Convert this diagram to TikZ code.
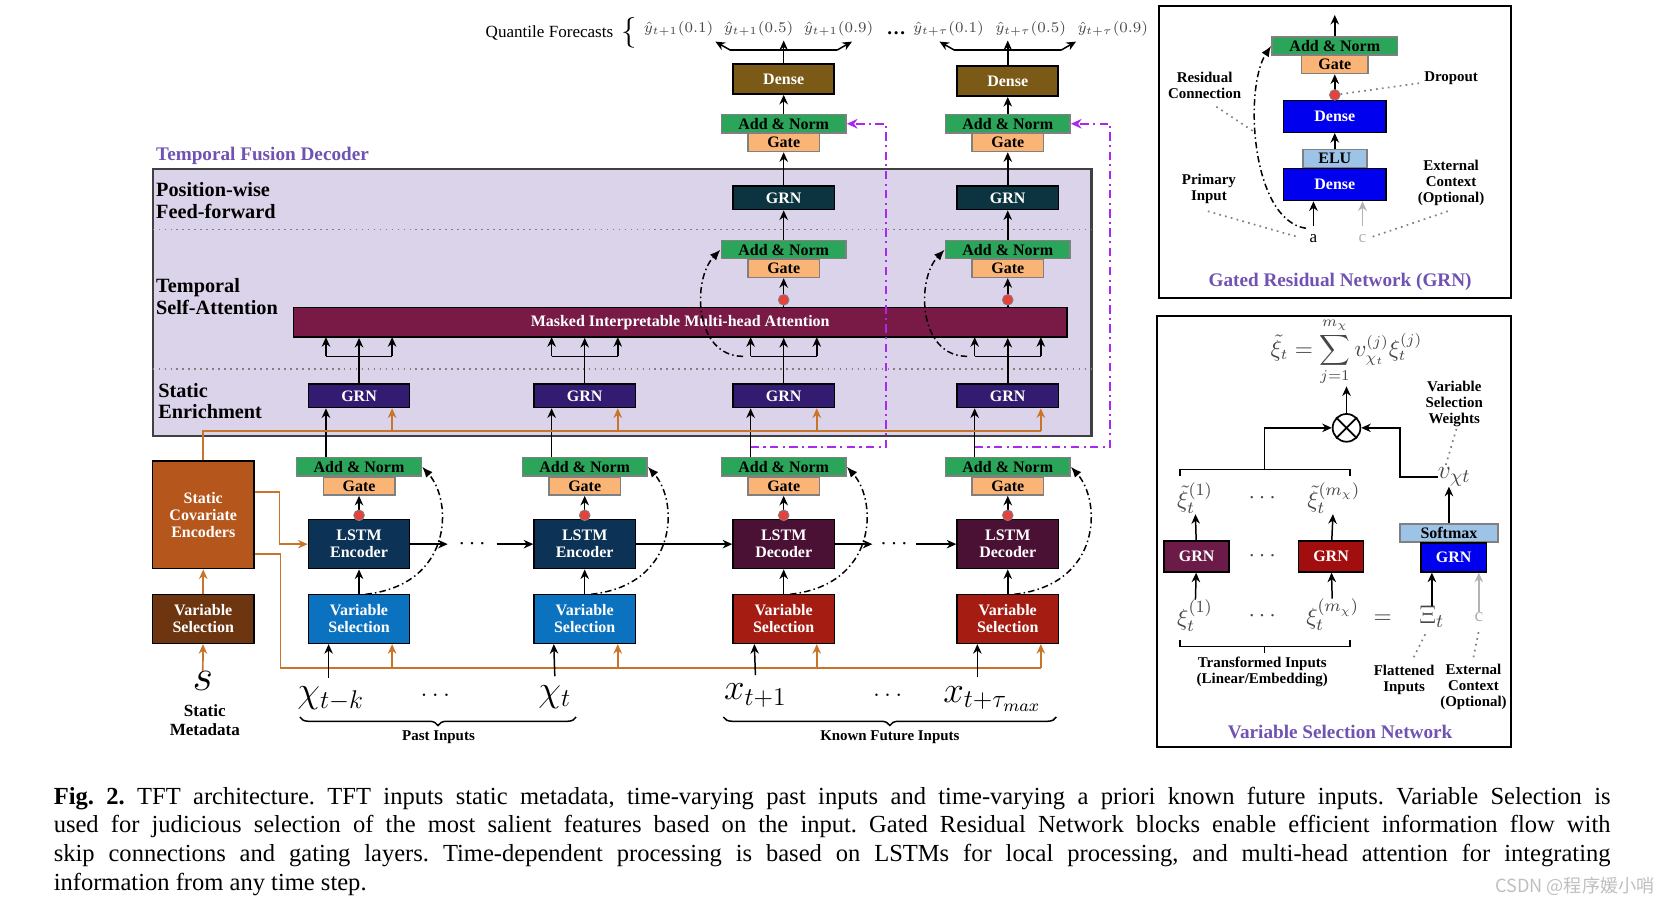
\documentclass[tikz,border=0pt]{standalone}
\usepackage{fontspec}
\setmainfont{Liberation Serif}
\newfontfamily\cjk{Noto Sans CJK SC}
\usetikzlibrary{arrows.meta,decorations.pathreplacing}
\definecolor{annorm}{RGB}{43,165,90}
\definecolor{gatec}{RGB}{249,180,118}
\definecolor{densec}{RGB}{122,90,22}
\definecolor{ffgrn}{RGB}{12,52,64}
\definecolor{segrn}{RGB}{50,27,112}
\definecolor{attn}{RGB}{120,26,69}
\definecolor{lstmenc}{RGB}{12,50,86}
\definecolor{lstmdec}{RGB}{75,17,52}
\definecolor{vsblue}{RGB}{10,114,190}
\definecolor{vsred}{RGB}{165,29,18}
\definecolor{scec}{RGB}{181,87,28}
\definecolor{svsc}{RGB}{110,53,17}
\definecolor{orangeln}{RGB}{200,116,42}
\definecolor{lav}{RGB}{219,211,234}
\definecolor{skipc}{RGB}{170,40,240}
\definecolor{titlec}{RGB}{112,82,178}
\definecolor{pureblue}{RGB}{0,0,238}
\definecolor{lightbl}{RGB}{157,195,230}
\definecolor{vsngrn1}{RGB}{108,26,72}
\definecolor{vsngrn2}{RGB}{162,14,14}
\definecolor{dropc}{RGB}{232,65,60}
\definecolor{mathc}{RGB}{70,70,70}
\begin{document}
\begin{tikzpicture}
  [x=0.5pt,y=-0.5pt,every node/.style={inner sep=0pt},
   box/.style={draw=black,line width=0.7pt,align=center,text=white,font=\bfseries\fontsize{7.5}{8}\selectfont},
   wide/.style={box,minimum width=47.5pt},
   addnorm/.style={box,draw=gray,fill=annorm,text=black,minimum width=58.5pt,minimum height=8.5pt},
   gatebox/.style={box,draw=gray,fill=gatec,text=black,minimum width=33.5pt,minimum height=8.5pt},
   grnbox/.style={wide,minimum height=11pt},
   tallbox/.style={wide,minimum height=23pt},
   vbox/.style={box,minimum width=30.5pt,minimum height=14.5pt},
   drop/.style={circle,fill=dropc,draw=gray,line width=0.4pt,minimum size=5pt},
   arr/.style={-{Stealth[length=4.5pt,width=4pt]},line width=0.7pt},
   oline/.style={draw=orangeln,line width=0.8pt},
   oarr/.style={arr,draw=orangeln,line width=0.8pt},
   resid/.style={-{Latex[length=5pt,width=4pt]},line width=0.7pt,dash pattern=on 3pt off 1.5pt on 0.7pt off 1.5pt},
   skiparr/.style={-{Stealth[length=5pt,width=4.5pt]},draw=skipc,line width=0.9pt,dash pattern=on 4pt off 2pt on 1pt off 2pt},
   note/.style={draw=gray,dotted,line width=0.8pt},
   lbl/.style={align=center,font=\bfseries\fontsize{7}{7.5}\selectfont},
   side/.style={anchor=west,align=left,font=\bfseries\fontsize{9.5}{10}\selectfont},
   ttl/.style={text=titlec,font=\bfseries\fontsize{9}{10}\selectfont},
   inp/.style={font=\fontsize{17}{17}\selectfont},
   vmath/.style={text=mathc,font=\fontsize{11}{11}\selectfont}]
\useasboundingbox (0,0) rectangle (1568,849);

\draw[fill=lav,draw=black!75,line width=1pt] (143,158) rectangle (1023,409);
\draw[gray,dotted,line width=0.8pt] (143,215) -- (1023,215) (143,346) -- (1023,346);
\node[ttl,anchor=west] (tfd) at (146,146) {Temporal Fusion Decoder};
\node[side] (pw) at (146,188) {Position-wise\\Feed-forward};
\node[side] (tsa) at (146,278) {Temporal\\Self-Attention};
\node[side] (sen) at (148,376) {Static\\Enrichment};
\node[box,fill=attn,minimum width=362.5pt,minimum height=14pt] (att) at (637.5,302) {Masked Interpretable Multi-head Attention};

\foreach \i/\x/\kind/\lc/\vc in {1/336.5/Encoder/lstmenc/vsblue,2/548/Encoder/lstmenc/vsblue,3/734.5/Decoder/lstmdec/vsred,4/944.5/Decoder/lstmdec/vsred} {
  \node[grnbox,fill=segrn] (se\i) at (\x,371) {GRN};
  \node[addnorm] (la\i) at (\x,437.5) {Add \& Norm};
  \node[gatebox] (lg\i) at (\x,455.5) {Gate};
  \node[tallbox,fill=\lc] (lstm\i) at (\x,510) {LSTM\\\kind};
  \node[tallbox,fill=\vc] (vs\i) at (\x,580) {Variable\\Selection};
  \draw[arr] (vs\i) -- (lstm\i);
  \draw[arr] (lstm\i) -- (lg\i);
  \node[drop] (ld\i) at (\x,483) {};
  \draw[arr] ([xshift=-15.5pt]la\i.north) -- ([xshift=-15.5pt]se\i.south);
  \draw[oarr] (\x+31,404) -- ([xshift=15.5pt]se\i.south);
  \draw[oarr] (\x+31,626) -- ([xshift=15.5pt]vs\i.south);
  \draw[arr] (se\i) -- (se\i |- att.south);
  \draw[line width=0.7pt] (\x-31,334) -- (\x+31,334);
  \draw[arr] (\x-31,334) -- (\x-31,316);
  \draw[arr] (\x+31,334) -- (\x+31,316);
  \draw[resid] (\x+6,557) .. controls (\x+88,548) and (\x+88,470) .. (la\i.east);
}

\foreach \i/\x/\yd in {3/734.5/74,4/944.5/76} {
  \node[grnbox,fill=ffgrn] (ff\i) at (\x,185.5) {GRN};
  \node[addnorm] (an\i) at (\x,234) {Add \& Norm};
  \node[gatebox] (ag\i) at (\x,251.5) {Gate};
  \node[addnorm] (tn\i) at (\x,116) {Add \& Norm};
  \node[gatebox] (tg\i) at (\x,133.5) {Gate};
  \node[box,fill=densec,minimum width=47.5pt,minimum height=14pt,line width=0.9pt] (dn\i) at (\x,\yd) {Dense};
  \draw[arr] (\x,288) -- (ag\i);
  \node[drop] (ad\i) at (\x,281) {};
  \draw[arr] (an\i) -- (ff\i);
  \draw[arr] (ff\i) -- (tg\i);
  \draw[arr] (tn\i) -- (dn\i);
  \draw[resid] (\x-38,334) .. controls (\x-84,334) and (\x-86,262) .. (an\i.west);
  \draw[skiparr] (\x-31,419) -- (\x+96,419) -- (\x+96,116) -- (tn\i.east);
  \draw[arr] (dn\i) -- (\x,38);
  \draw[line width=0.7pt] (\x-50,47) -- (\x+50,47);
  \draw[arr] (\x-50,47) -- (\x-64,39);
  \draw[arr] (\x+50,47) -- (\x+64,39);
}

\node[font=\fontsize{8}{8}\selectfont] (qf) at (515,31) {Quantile Forecasts};
\node[font=\fontsize{14}{14}\selectfont] (qb) at (590,31) {$\{$};
\foreach \n/\x/\s/\q in {31/636/1/0.1,32/711/1/0.5,33/786/1/0.9,41/889/\tau/0.1,42/966/\tau/0.5,43/1043/\tau/0.9}
  \node[text=mathc,font=\fontsize{7.5}{7.5}\selectfont] (q\n) at (\x,27) {$\hat y_{t+\s}(\q)$};
\node[font=\bfseries\fontsize{9}{9}\selectfont] (qd) at (840,31) {\dots};

\node[box,fill=scec,minimum width=47.5pt,minimum height=50.5pt] (sce) at (190.5,482.5) {Static\\Covariate\\Encoders};
\node[tallbox,fill=svsc] (svs) at (190.5,580) {Variable\\Selection};
\node[font=\fontsize{20}{20}\selectfont] (sm) at (190,638) {$s$};
\node[lbl,font=\bfseries\fontsize{8}{8.5}\selectfont] (smt) at (192,675) {Static\\Metadata};
\draw[oarr] (sm) -- (svs);
\draw[oarr] (svs) -- (sce);
\draw[oline] (sce.north) |- (975.5,404);
\draw[oarr] ([yshift=10.75pt]sce.east) -| (262,510) -- (lstm1.west);
\draw[oline] ([yshift=-18.25pt]sce.east) -| (263,626) -- (975.5,626);

\node[minimum width=22.5pt,font=\fontsize{11}{11}\selectfont] (d1) at (442.5,510) {$\cdots$};
\node[minimum width=20pt,font=\fontsize{11}{11}\selectfont] (d2) at (838,510) {$\cdots$};
\foreach \from/\to in {lstm1/d1,d1/lstm2,lstm2/lstm3,lstm3/d2,d2/lstm4}
  \draw[arr] (\from) -- (\to);

\node[inp] (in1) at (310,655) {$\chi_{t-k}$};
\node[font=\fontsize{12}{12}\selectfont] (dp) at (408,652) {$\dots$};
\node[inp] (in2) at (520,653) {$\chi_t$};
\node[inp] (in3) at (708,652) {$x_{t+1}$};
\node[font=\fontsize{12}{12}\selectfont] (df) at (832,652) {$\dots$};
\node[inp] (in4) at (930,655) {$x_{t+\tau_{max}}$};
\draw[arr] ([xshift=-1pt,yshift=4pt]in1.north) -- ([xshift=-14.25pt]vs1.south);
\draw[arr] ([yshift=4pt]in2.north) -- ([xshift=-14.5pt]vs2.south);
\draw[arr] ([yshift=4pt]in3.north) -- ([xshift=-13.75pt]vs3.south);
\draw[arr] ([xshift=-7pt,yshift=4pt]in4.north) -- ([xshift=-14.25pt]vs4.south);
\draw[decorate,decoration={brace,mirror,amplitude=4pt},line width=0.7pt] (281,672) -- (540,672);
\draw[decorate,decoration={brace,mirror,amplitude=4pt},line width=0.7pt] (678,672) -- (990,672);
\node[lbl] (pin) at (411,691) {Past Inputs};
\node[lbl] (kfi) at (834,691) {Known Future Inputs};

\draw[line width=1pt] (1086,6) rectangle (1416,279);
\node[addnorm,minimum width=59pt] (gan) at (1251,43) {Add \& Norm};
\node[gatebox,minimum width=31pt] (ggt) at (1251,60.5) {Gate};
\node[box,fill=pureblue,minimum width=48pt,minimum height=15pt] (gd1) at (1251,109) {Dense};
\node[box,fill=lightbl,text=black,draw=gray,minimum width=30pt,minimum height=8.5pt] (gelu) at (1251,148.5) {ELU};
\node[box,fill=pureblue,minimum width=48pt,minimum height=15pt] (gd2) at (1251,173) {Dense};
\node[lbl,font=\fontsize{8}{8}\selectfont] (ga) at (1231,224) {a};
\node[lbl,text=gray!60,font=\fontsize{8}{8}\selectfont] (gc) at (1277,224) {c};
\draw[arr] (gan.north) -- (1251,14);
\draw[arr] (gd1) -- (ggt);
\node[drop] (gdr) at (1251,89) {};
\draw[arr] (gelu) -- (gd1);
\draw[arr] ([yshift=4pt]ga.north) -- (ga.north |- gd2.south);
\draw[arr,draw=gray!60] ([yshift=4pt]gc.north) -- (gc.north |- gd2.south);
\draw[resid] (1224,214) .. controls (1172,206) and (1166,82) .. (gan.west);
\node[lbl] (rcn) at (1129,80) {Residual\\Connection};
\node[lbl] (dro) at (1360,73) {Dropout};
\node[lbl] (pri) at (1133,177) {Primary\\Input};
\node[lbl] (ext) at (1360,171) {External\\Context\\(Optional)};
\node[ttl] (gtl) at (1256,264) {Gated Residual Network (GRN)};
\draw[note] (1140,100) -- (1176,124);
\draw[note] (1330,78) -- (gdr);
\draw[note] (1132,198) -- (1216,222);
\draw[note] (1357,198) -- (1286,222);

\draw[line width=1pt] (1084,296) rectangle (1416,700);
\node[vmath,font=\fontsize{10.5}{10.5}\selectfont] (sum) at (1262,330) {$\displaystyle \tilde\xi_t=\sum_{j=1}^{m_\chi} v_{\chi_t}^{(j)}\xi_t^{(j)}$};
\node[draw,circle,minimum size=13pt,line width=0.8pt] (mul) at (1262,401) {};
\draw[line width=0.8pt] (mul.north west) -- (mul.south east) (mul.north east) -- (mul.south west);
\draw[arr] (mul) -- (sum);
\node[vmath] (xt1) at (1120,467) {$\tilde\xi_t^{(1)}$};
\node[vmath] (xtd) at (1183,467) {$\cdots$};
\node[vmath] (xtm) at (1250,467) {$\tilde\xi_t^{(m_\chi)}$};
\node[vmath,font=\fontsize{13}{13}\selectfont] (vw) at (1363,447) {$v_{\chi t}$};
\node[vbox,fill=vsngrn1] (vg1) at (1121.5,521.5) {GRN};
\node[vmath] (vgd) at (1183,521) {$\cdots$};
\node[vbox,fill=vsngrn2] (vg2) at (1247.5,521.5) {GRN};
\node[box,fill=lightbl,text=black,draw=gray,minimum width=46pt,minimum height=8.5pt] (smx) at (1358,499.5) {Softmax};
\node[box,fill=pureblue,minimum width=30.5pt,minimum height=13.5pt] (vg3) at (1362.5,522.5) {GRN};
\node[vmath] (x1) at (1120,577) {$\xi_t^{(1)}$};
\node[vmath] (xd) at (1183,578) {$\cdots$};
\node[vmath] (xm) at (1249,576) {$\xi_t^{(m_\chi)}$};
\node[vmath] (eq) at (1296,580) {$=$};
\node[vmath,font=\fontsize{13}{13}\selectfont] (xi) at (1342,578) {$\Xi_t$};
\node[text=gray!60,font=\fontsize{9}{9}\selectfont] (vc) at (1386,578) {c};
\foreach \from/\to in {x1/vg1,xm/vg2,vg1/xt1,vg2/xtm}
  \draw[arr] (\from) -- (\to);
\draw[arr] (xi.north) -- (xi.north |- vg3.south);
\draw[arr,draw=gray!60] (vc.north) -- (vc.north |- vg3.south);
\draw[arr] (smx.north) -- (smx.north |- vw.south);
\draw[line width=0.8pt] (1106,446) -- (1106,440) -- (1265,440) -- (1265,446);
\draw[arr] (1185,440) |- (mul.west);
\draw[arr] (vw.west) -- (1312,447) |- (mul.east);
\draw[line width=0.8pt] (1106,600) -- (1106,606) -- (1265,606) -- (1265,600) (1185,606) -- (1185,612);
\node[lbl] (tin) at (1183,630) {Transformed Inputs\\(Linear/Embedding)};
\node[lbl] (fin) at (1316,637) {Flattened\\Inputs};
\node[lbl] (vext) at (1381,644) {External\\Context\\(Optional)};
\node[lbl] (vsw) at (1363,379) {Variable\\Selection\\Weights};
\draw[note] (1325,616) -- (1337,592);
\draw[note] (1381,616) -- (1386,591);
\draw[note] (1365,402) -- (1355,436);
\node[ttl] (vtl) at (1256,686) {Variable Selection Network};

\node[anchor=north west,text width=729.5pt,align=justify,font=\fontsize{11.5}{13.5}\selectfont] (cap) at (50,737)
  {\frenchspacing\textbf{Fig.~2.} TFT architecture. TFT inputs static metadata, time-varying past inputs and time-varying a priori known future inputs. Variable Selection is\linebreak
   used for judicious selection of the most salient features based on the input. Gated Residual Network blocks enable efficient information flow with\linebreak
   skip connections and gating layers. Time-dependent processing is based on LSTMs for local processing, and multi-head attention for integrating\linebreak
   information from any time step.};
\node[text=gray!50,font=\cjk\fontsize{8.5}{9}\selectfont] (wm) at (1476,831) {CSDN @程序媛小哨};
\end{tikzpicture}
\end{document}
